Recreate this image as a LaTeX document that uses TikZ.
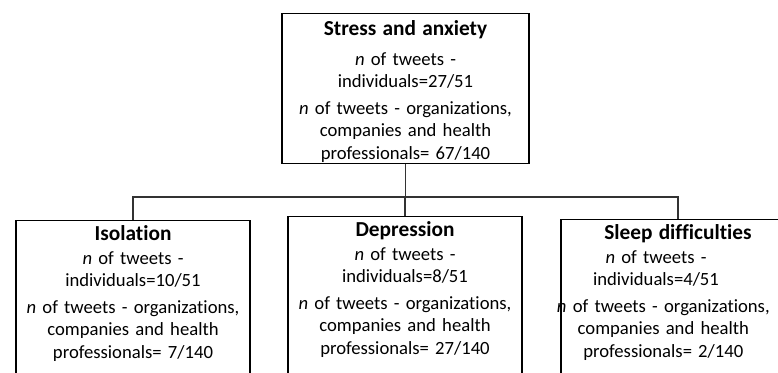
\documentclass[tikz,border=0pt]{standalone}
\usepackage{fontspec}
\setmainfont[Ligatures={NoCommon}]{Carlito}
\usetikzlibrary{positioning}

\newcommand{\bodyfont}{\fontsize{14}{16.75}\selectfont}
\newcommand{\headfont}{\fontsize{16}{16.75}\selectfont\bfseries}
\newcommand{\nudge}[1]{\hspace*{#1}}

\tikzset{
  theme/.style={draw=black, line width=0.9pt, align=center, anchor=north,
    inner xsep=2pt, inner ysep=4.4pt, text height=12pt, font=\bodyfont},
  topbox/.style={theme, text width=176pt, minimum width=185.25pt, text depth=91.7pt},
  subbox/.style={theme, inner ysep=3pt, text width=170pt, minimum width=175.5pt, text depth=130pt},
  link/.style={draw=black!80, line width=0.9pt},
}

\begin{document}
\begin{tikzpicture}[x=0.75pt, y=-0.75pt]
  \useasboundingbox (0,0) rectangle (778,372);
  \clip (0,0) rectangle (778,372);

  % main theme
  \node[topbox] (stress) at (405.5,13) {{\headfont Stress and anxiety}\\[5.5pt]
    \textit{n} of tweets -\\ individuals=27/51\\[3.5pt]
    \textit{n} of tweets - organizations,\\ companies and health\\ professionals= 67/140};

  % subthemes
  \node[subbox] (iso) at (133,220) {{\headfont Isolation}\\[1pt]
    \textit{n} of tweets -\\ individuals=10/51\\[3.5pt]
    \textit{n} of tweets - organizations,\\ companies and health\\ professionals= 7/140};
  \node[subbox] (dep) at (405,216) {{\headfont Depression}\\[1pt]
    \textit{n} of tweets -\\ individuals=8/51\\[3.5pt]
    \textit{n} of tweets - organizations,\\ companies and health\\ professionals= 27/140};
  \node[subbox] (sleep) at (678,219) {{\headfont Sleep difficulties}\\[1pt]
    \nudge{-33pt}\textit{n} of tweets -\\ \nudge{-33pt}individuals=4/51\\[3.5pt]
    \nudge{-22pt}\textit{n} of tweets - organizations,\\ \nudge{-22pt}companies and health\\
    \nudge{-22pt}professionals= 2/140};

  % tree links
  \coordinate (split) at (405.5,197);
  \draw[link] (stress.south) -- (split);
  \draw[link] (split) -| (iso.north);
  \draw[link] (split) -| (dep.north);
  \draw[link] (split) -| (sleep.north);
\end{tikzpicture}
\end{document}
